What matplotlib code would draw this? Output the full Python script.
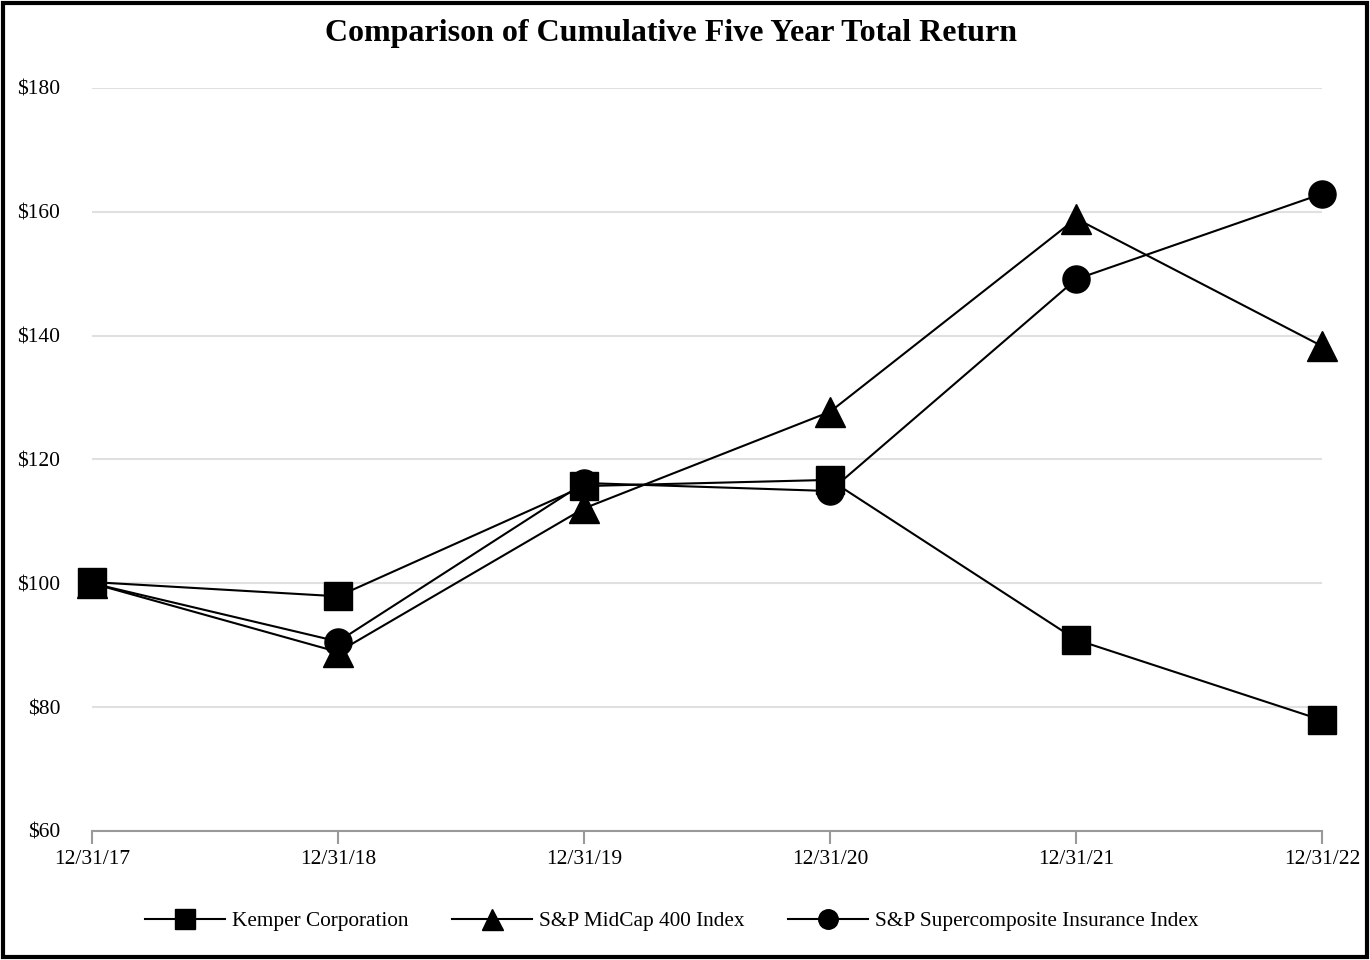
import matplotlib.pyplot as plt
from matplotlib.patches import Rectangle

# Data
dates = ['12/31/17', '12/31/18', '12/31/19', '12/31/20', '12/31/21', '12/31/22']
kemper = [100.2, 97.9, 115.7, 116.7, 90.9, 77.9]
midcap = [100.0, 88.9, 112.1, 127.7, 158.9, 138.3]
insurance = [100.0, 90.6, 116.2, 114.9, 149.1, 162.9]
yticks = [60, 80, 100, 120, 140, 160, 180]

plt.rcParams['font.family'] = ['Liberation Serif', 'DejaVu Serif']

fig = plt.figure(figsize=(13.7, 9.6), dpi=100)
ax = fig.add_axes([0.0672, 0.1344, 0.8978, 0.774])

x = list(range(len(dates)))
# draw order: triangles under circles under squares
ax.plot(x, midcap, color='black', lw=1.5, marker='^', markersize=21, label='S&P MidCap 400 Index', zorder=3)
ax.plot(x, insurance, color='black', lw=1.5, marker='o', markersize=19.5, label='S&P Supercomposite Insurance Index', zorder=4)
ax.plot(x, kemper, color='black', lw=1.5, marker='s', markersize=20.5, label='Kemper Corporation', zorder=5)
for line in ax.lines:
    line.set_clip_on(False)

ax.set_xlim(0, len(dates) - 1)
ax.set_ylim(60, 180)
ax.set_yticks(yticks)
ax.set_yticklabels([f'${v}' for v in yticks], fontsize=15.5)
ax.set_xticks(x)
ax.set_xticklabels(dates, fontsize=15.5)
ax.grid(axis='y', color='#e0e0e0', lw=1.5)
ax.set_axisbelow(True)
for s in ['left', 'right', 'top']:
    ax.spines[s].set_visible(False)
ax.spines['bottom'].set_color('#999999')
ax.spines['bottom'].set_linewidth(1.5)
ax.tick_params(axis='y', length=0, pad=23)
ax.tick_params(axis='x', length=9, width=1.5, color='#999999', pad=5)

fig.text(0.4895, 1 - 33 / 960, 'Comparison of Cumulative Five Year Total Return',
         fontsize=23, fontweight='bold', ha='center', va='center')

handles, labels = ax.get_legend_handles_labels()
order = [2, 0, 1]
fig.legend([handles[i] for i in order], [labels[i] for i in order], loc='center',
           bbox_to_anchor=(0.4905, 1 - 921 / 960), ncol=3, frameon=False, fontsize=15.3,
           handlelength=3.76, columnspacing=2.05, handletextpad=0.33, markerscale=0.72)

fig.patches.append(Rectangle((0.002, 0.003), 0.996, 0.994, transform=fig.transFigure,
                             fill=False, edgecolor='black', lw=3))

fig.savefig('out.png', dpi=100)
